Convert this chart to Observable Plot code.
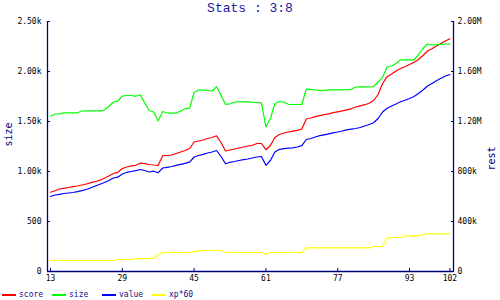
<!DOCTYPE html>
<html><head><meta charset="utf-8">
<script src="https://cdn.jsdelivr.net/npm/d3@7"></script>
<script src="https://cdn.jsdelivr.net/npm/@observablehq/plot@0.6"></script>
<style>
body{margin:0;background:#fff;}
#wrap{position:relative;width:500px;height:300px;font-family:"DejaVu Sans Mono",monospace;}
#title{position:absolute;top:1px;left:0;width:500px;text-align:center;font-family:"Liberation Mono",monospace;font-size:13px;color:#1818a0;line-height:15px;}
#legend{position:absolute;top:290px;left:2px;height:10px;font-size:8px;color:#10108c;line-height:10px;white-space:nowrap;}
.item{display:inline-block;width:50px;}
.sw{display:inline-block;width:14px;height:2px;vertical-align:middle;margin-right:3px;}
#chart{position:absolute;top:0;left:0;}
</style>
</head><body>
<div id="wrap"><div id="chart"></div><div id="title"></div><div id="legend"></div></div>
<script>
const xStart = 13;
const score = [
793,808,825,832,840,848,855,865,875,888,
900,912,932,955,980,992,1030,1045,1057,1062,
1083,1078,1070,1065,1062,1158,1160,1165,1180,1195,
1210,1230,1295,1305,1315,1330,1340,1357,1290,1205,
1215,1225,1235,1245,1255,1262,1280,1280,1218,1260,
1340,1370,1385,1395,1403,1412,1425,1525,1535,1548,
1558,1568,1577,1588,1597,1607,1617,1627,1645,1657,
1668,1683,1710,1770,1880,1948,1975,2005,2030,2048,
2070,2092,2120,2160,2205,2228,2255,2280,2305,2327];
const size = [
1553,1575,1577,1587,1587,1587,1587,1605,1607,1607,
1607,1607,1615,1650,1695,1703,1755,1760,1760,1752,
1768,1685,1610,1595,1505,1600,1585,1583,1583,1605,
1627,1633,1790,1815,1813,1810,1805,1848,1760,1672,
1677,1695,1697,1697,1697,1692,1690,1687,1445,1530,
1680,1700,1695,1672,1670,1670,1670,1825,1822,1815,
1808,1812,1817,1817,1817,1817,1818,1822,1845,1847,
1847,1847,1850,1895,1943,2045,2055,2080,2117,2117,
2117,2117,2170,2230,2275,2265,2268,2272,2275,2277];
const value = [
750,765,772,780,785,790,798,808,820,838,
855,872,890,910,935,943,975,992,1000,1008,
1020,1010,995,1003,988,1035,1042,1050,1062,1072,
1082,1093,1145,1160,1172,1185,1195,1210,1150,1077,
1092,1100,1110,1118,1125,1135,1145,1150,1062,1110,
1195,1222,1228,1233,1237,1245,1258,1320,1330,1345,
1358,1367,1377,1387,1395,1405,1417,1423,1430,1440,
1455,1470,1488,1530,1595,1632,1655,1675,1697,1712,
1730,1750,1780,1815,1855,1880,1908,1932,1955,1970];
const xp60 = [
110,110,110,110,110,110,110,110,110,110,
110,110,110,110,110,120,120,120,120,128,
128,128,128,137,165,190,190,190,190,190,
190,190,199,206,210,210,210,210,210,190,
190,190,190,190,190,190,190,190,172,190,
190,190,190,190,190,190,190,237,237,237,
237,237,237,237,237,237,237,237,237,237,
237,237,250,250,250,333,340,340,340,357,
357,357,357,370,377,377,377,377,377,377];
const seriesNames = ["score","size","value","xp*60"];
const seriesColors = ["#ff0000","#00ff00","#0000ff","#ffff00"];
const xTicks = [13,29,45,61,77,93,102];
const leftTicks = [0,500,1000,1500,2000,2500];
const leftLabels = ["0","500","1.00k","1.50k","2.00k","2.50k"];
const rightLabels = ["0","400k","800k","1.20M","1.60M","2.00M"];
const titleText = "Stats : 3:8";
const xMin = 12.33, xMax = 102.8;

const rows = [];
[score,size,value,xp60].forEach((arr,k)=>arr.forEach((v,i)=>rows.push({x:xStart+i,y:v,s:seriesNames[k]})));

const navy = "#000080";
const chart = Plot.plot({
  width:500, height:300,
  marginTop:21, marginBottom:29, marginLeft:47, marginRight:47,
  style:{fontFamily:"DejaVu Sans Mono, monospace", fontSize:"8px", background:"white", color:"black", overflow:"visible"},
  x:{domain:[xMin,xMax]},
  y:{domain:[0,2500]},
  color:{domain:seriesNames, range:seriesColors},
  marks:[
    Plot.line(rows,{x:"x",y:"y",stroke:"s",z:"s",strokeWidth:1.2}),
    Plot.ruleX([xMin],{stroke:navy,strokeWidth:1.3}),
    Plot.ruleX([xMax],{stroke:navy,strokeWidth:1.3}),
    Plot.ruleY([0],{stroke:navy,strokeWidth:1.3}),
    Plot.axisX({ticks:xTicks, tickSize:-3, tickPadding:7, stroke:navy, fill:"black", label:null, tickFormat:d=>String(d)}),
    Plot.axisY({anchor:"left", ticks:leftTicks, tickSize:-3, tickPadding:9, stroke:navy, fill:"black", label:null, tickFormat:d=>leftLabels[leftTicks.indexOf(d)]}),
    Plot.axisY({anchor:"right", ticks:leftTicks, tickSize:-3, tickPadding:7, stroke:navy, fill:"black", label:null, tickFormat:d=>rightLabels[leftTicks.indexOf(d)]}),
    Plot.text(["size"],{frameAnchor:"left", dx:-39, rotate:-90, fill:navy, fontSize:10}),
    Plot.text(["rest"],{frameAnchor:"right", dx:38, rotate:-90, fill:navy, fontSize:10})
  ]
});
document.getElementById("chart").appendChild(chart);
document.getElementById("title").textContent = titleText;
const leg = document.getElementById("legend");
seriesNames.forEach((n,i)=>{
  const it = document.createElement("span"); it.className="item";
  const sw = document.createElement("span"); sw.className="sw"; sw.style.background=seriesColors[i];
  const tx = document.createElement("span"); tx.textContent=n;
  it.appendChild(sw); it.appendChild(tx); leg.appendChild(it);
});
</script>
</body></html>
